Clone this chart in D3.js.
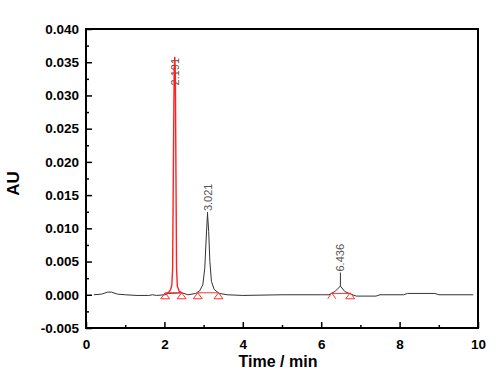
<!DOCTYPE html>
<html>
<head>
<meta charset="utf-8">
<script src="https://cdn.jsdelivr.net/npm/d3@7"></script>
<style>
  body { margin: 0; background: #fff; }
  svg { display: block; font-family: Arial, "Liberation Sans", sans-serif; }
</style>
</head>
<body>
<svg id="chart"></svg>
<script>
/* Data: black trace (time, AU) */
const blackTime = [0.20, 0.40, 0.55, 0.65, 0.80, 1.00, 1.30, 1.60, 1.70, 1.80, 2.00, 2.10, 2.45, 2.60, 2.80, 2.90, 2.98, 3.03, 3.07, 3.10, 3.13, 3.16, 3.20, 3.27, 3.40, 3.60, 4.00, 5.00, 6.00, 6.20, 6.35, 6.49, 6.60, 6.75, 6.90, 7.40, 7.50, 8.10, 8.20, 8.90, 9.00, 9.88];
const blackAU   = [0.0000, 0.0001, 0.0004, 0.0004, 0.0001, 0.0000, -0.0001, -0.0001, 0.0000, -0.0001, 0.0000, 0.0002, 0.0003, 0.0000, 0.0002, 0.0006, 0.0015, 0.0040, 0.0090, 0.0122, 0.0095, 0.0050, 0.0020, 0.0008, 0.0002, 0.0000, -0.0001, 0.0000, 0.0000, 0.0000, 0.0005, 0.0013, 0.0005, 0.0001, -0.0002, -0.0002, 0.0000, 0.0000, 0.0002, 0.0002, 0.0000, 0.0000];

/* Data: red integrated peak */
const redTime = [2.00, 2.10, 2.16, 2.19, 2.21, 2.23, 2.25, 2.265, 2.28, 2.295, 2.31, 2.33, 2.38, 2.45];
const redAU   = [0.0000, 0.0003, 0.0008, 0.0015, 0.0040, 0.0200, 0.0340, 0.0358, 0.0330, 0.0180, 0.0040, 0.0013, 0.0005, 0.0003];

/* Integration baselines: start, end, level */
const baseStart = [2.02, 2.85, 6.27];
const baseEnd   = [2.44, 3.38, 6.74];
const baseLevel = [0.0003, 0.0003, 0.0002];

/* Peak markers */
const triangleTimes = [2.02, 2.44, 2.85, 3.38, 6.74];
const caretTimes = [6.27];

/* Peak labels */
const peakLabels = ["2.191", "3.021", "6.436"];
const peakTimes  = [2.265, 3.10, 6.49];
const peakTops   = [0.0358, 0.0122, 0.0013];
const labelBase  = [0.0315, 0.0126, 0.0035];

/* Axis ticks */
const xTicks = [0, 2, 4, 6, 8, 10];
const xMinor = [1, 3, 5, 7, 9];
const yTicks = [-0.005, 0.000, 0.005, 0.010, 0.015, 0.020, 0.025, 0.030, 0.035, 0.040];
const yMinor = [-0.0025, 0.0025, 0.0075, 0.0125, 0.0175, 0.0225, 0.0275, 0.0325, 0.0375];

/* Chart dimensions */
const W = 500, H = 376;
const margin = { top: 29, right: 22, bottom: 48, left: 86 };
const width = W - margin.left - margin.right;
const height = H - margin.top - margin.bottom;

const svg = d3.select("#chart").attr("width", W).attr("height", H);
const g = svg.append("g").attr("transform", `translate(${margin.left},${margin.top})`);

const x = d3.scaleLinear().domain([0, 10]).range([0, width]);
const y = d3.scaleLinear().domain([-0.005, 0.040]).range([height, 0]);

/* Axes */
const fmtY = d => d.toFixed(3);
const yAxis = g.append("g")
    .call(d3.axisLeft(y).tickValues(yTicks).tickFormat(fmtY).tickSize(-6).tickPadding(7));
yAxis.append("g")
    .call(d3.axisLeft(y).tickValues(yMinor).tickFormat("").tickSize(-3));

const xAxis = g.append("g")
    .attr("transform", `translate(0,${height})`)
    .call(d3.axisBottom(x).tickValues(xTicks).tickFormat(d3.format("d")).tickSize(-6).tickPadding(11));
xAxis.append("g")
    .call(d3.axisBottom(x).tickValues(xMinor).tickFormat("").tickSize(-3));

g.selectAll(".domain").remove();
g.selectAll(".tick line").attr("stroke", "#000").attr("stroke-width", 1.5);
g.selectAll(".tick text")
    .style("font-size", "13.5px")
    .style("font-weight", "bold")
    .attr("fill", "#000");

/* Frame */
g.append("rect")
    .attr("x", 0).attr("y", 0)
    .attr("width", width).attr("height", height)
    .attr("fill", "none")
    .attr("stroke", "#000")
    .attr("stroke-width", 2);

/* Line generator */
const line = d3.line()
    .x(d => x(d[0]))
    .y(d => y(d[1]));

/* Black trace */
g.append("path")
    .datum(d3.zip(blackTime, blackAU))
    .attr("fill", "none")
    .attr("stroke", "#333")
    .attr("stroke-width", 1)
    .attr("d", line);

/* Integration baselines */
g.selectAll(".base")
    .data(d3.zip(baseStart, baseEnd, baseLevel))
    .join("line")
      .attr("class", "base")
      .attr("x1", d => x(d[0]))
      .attr("x2", d => x(d[1]))
      .attr("y1", d => y(d[2]))
      .attr("y2", d => y(d[2]))
      .attr("stroke", "#ff3030")
      .attr("stroke-width", 1);

/* Peak labels (drawn under the red peak, as in the reference) */
g.selectAll(".plabel")
    .data(d3.range(peakLabels.length))
    .join("text")
      .attr("class", "plabel")
      .attr("transform", i => `translate(${x(peakTimes[i]) + 4},${y(labelBase[i])}) rotate(-90)`)
      .attr("text-anchor", "start")
      .style("font-size", "11px")
      .attr("fill", "#555")
      .text(i => peakLabels[i]);

/* Peak label leader lines, only where the label sits above the apex */
const leaderIdx = d3.range(peakLabels.length).filter(i => labelBase[i] > peakTops[i]);
g.selectAll(".leader")
    .data(leaderIdx)
    .join("line")
      .attr("class", "leader")
      .attr("x1", i => x(peakTimes[i]))
      .attr("x2", i => x(peakTimes[i]))
      .attr("y1", i => y(peakTops[i]))
      .attr("y2", i => y(labelBase[i]) + 1)
      .attr("stroke", "#333")
      .attr("stroke-width", 1);

/* Red peak */
g.append("path")
    .datum(d3.zip(redTime, redAU))
    .attr("fill", "none")
    .attr("stroke", "#ff2020")
    .attr("stroke-width", 1.4)
    .attr("d", line);

/* Triangle markers */
g.selectAll(".tri")
    .data(triangleTimes)
    .join("path")
      .attr("class", "tri")
      .attr("transform", d => `translate(${x(d)},${y(0.0003)})`)
      .attr("d", "M0,0 L-4.5,6 L4.5,6 Z")
      .attr("fill", "none")
      .attr("stroke", "#ff3030")
      .attr("stroke-width", 1);

g.selectAll(".caret")
    .data(caretTimes)
    .join("path")
      .attr("class", "caret")
      .attr("transform", d => `translate(${x(d)},${y(0.0003)})`)
      .attr("d", "M-4,6 L0,0 L4,6")
      .attr("fill", "none")
      .attr("stroke", "#ff3030")
      .attr("stroke-width", 1);

/* Axis titles */
svg.append("text")
    .attr("transform", `translate(19,${margin.top + height / 2 + 5}) rotate(-90)`)
    .attr("text-anchor", "middle")
    .style("font-size", "17px")
    .style("font-weight", "bold")
    .text("AU");

svg.append("text")
    .attr("x", 278)
    .attr("y", 367)
    .attr("text-anchor", "middle")
    .style("font-size", "16px")
    .style("font-weight", "bold")
    .text("Time / min");
</script>
</body>
</html>
